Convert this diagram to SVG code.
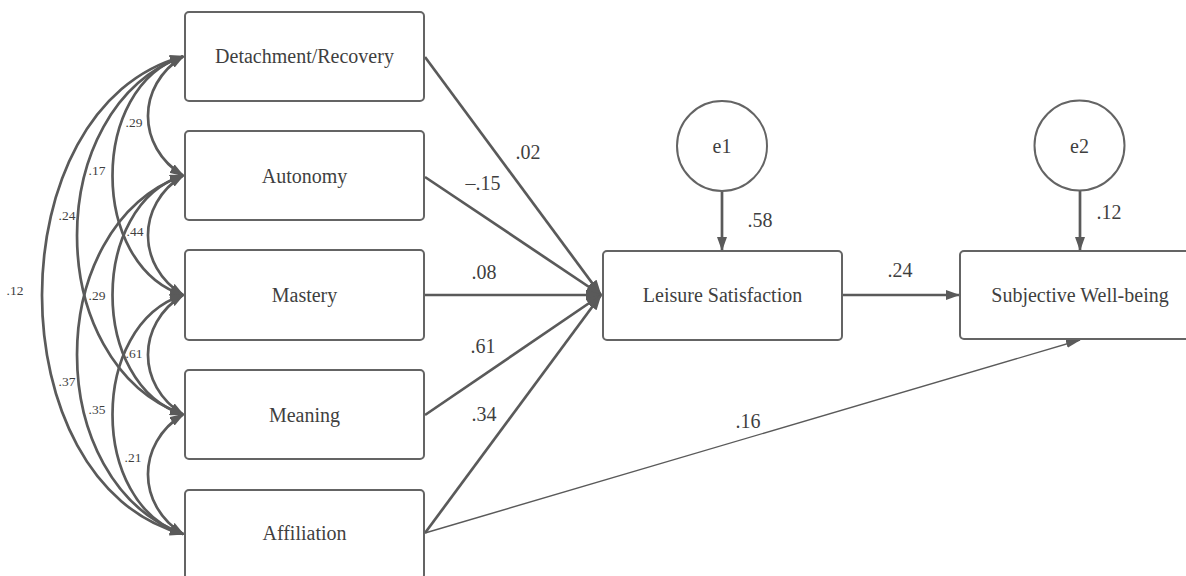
<svg xmlns="http://www.w3.org/2000/svg" width="1186" height="576" viewBox="0 0 1186 576">
<style>
.box{fill:#fff;stroke:#646464;stroke-width:2}
.lbl,.el,.cl{font-family:"Liberation Serif","Times New Roman",Tinos,"DejaVu Serif","Noto Serif",serif;fill:#3f3f3f;text-anchor:middle}
.lbl,.el{font-size:20px}
.cl{font-size:13.5px}
.cov{fill:none;stroke:#5a5a5a;stroke-width:2.7;marker-start:url(#ca);marker-end:url(#ca)}
.pth{fill:none;stroke:#5a5a5a;stroke-width:2.7}
</style>
<defs>
<marker id="ca" viewBox="0 0 15 10" refX="13" refY="5" markerWidth="15" markerHeight="10" markerUnits="userSpaceOnUse" orient="auto-start-reverse"><path d="M0,0 L15,5 L0,10 z" fill="#5a5a5a"/></marker>
<marker id="big" viewBox="0 0 16 11" refX="15" refY="5.5" markerWidth="16" markerHeight="11" markerUnits="userSpaceOnUse" orient="auto"><path d="M0,0 L16,5.5 L0,11 z" fill="#5a5a5a"/></marker>
<marker id="med" viewBox="0 0 14 10" refX="13" refY="5" markerWidth="14" markerHeight="10" markerUnits="userSpaceOnUse" orient="auto"><path d="M0,0 L14,5 L0,10 z" fill="#5a5a5a"/></marker>
<marker id="thin" viewBox="0 0 15 8" refX="14" refY="4" markerWidth="15" markerHeight="8" markerUnits="userSpaceOnUse" orient="auto"><path d="M0,0 L15,4 L0,8 z" fill="#5a5a5a"/></marker>
</defs>
<g id="connectors">
<path class="cov" d="M183,56.5 C136.3,85.5 136.3,146.5 183,175.5"/>
<path class="cov" d="M183,175.5 C136.3,204.5 136.3,266 183,295"/>
<path class="cov" d="M183,295 C136.3,324 136.3,385.5 183,414.5"/>
<path class="cov" d="M183,414.5 C136.3,443.5 136.3,505 183,534"/>
<path class="cov" d="M183,56.5 C89,86.5 89,265 183,295"/>
<path class="cov" d="M183,175.5 C89,205.5 89,384.5 183,414.5"/>
<path class="cov" d="M183,295 C89,325 89,504 183,534"/>
<path class="cov" d="M183,56.5 C41.7,107.5 41.7,363.5 183,414.5"/>
<path class="cov" d="M183,175.5 C41.7,226.5 41.7,483 183,534"/>
<path class="cov" d="M183,56.5 C-5,106.5 -5,484 183,534"/>
<path class="pth" d="M425,57 L601,295" marker-end="url(#big)"/>
<path class="pth" d="M425,177 L601,295" marker-end="url(#big)"/>
<path class="pth" d="M425,295 L601,295" marker-end="url(#big)"/>
<path class="pth" d="M425,415 L601,295" marker-end="url(#big)"/>
<path class="pth" d="M425,533 L601,295" marker-end="url(#big)"/>
<path class="pth" d="M842,295 L959,295" marker-end="url(#med)"/>
<path class="pth" d="M722,191 L722,250" marker-end="url(#med)"/>
<path class="pth" d="M1080,190 L1080,250" marker-end="url(#med)"/>
<path fill="none" stroke="#5a5a5a" stroke-width="1.4" d="M425,533 L1080,340" marker-end="url(#thin)"/>
</g>
<g id="edge-labels">
<text class="el" x="528" y="159">.02</text>
<text class="el" x="483" y="190">–.15</text>
<text class="el" x="484" y="279">.08</text>
<text class="el" x="483" y="353">.61</text>
<text class="el" x="484" y="421">.34</text>
<text class="el" x="760" y="227">.58</text>
<text class="el" x="1109" y="219">.12</text>
<text class="el" x="900" y="277">.24</text>
<text class="el" x="748" y="428">.16</text>
<text class="cl" x="134" y="126.5">.29</text>
<text class="cl" x="97" y="174.5">.17</text>
<text class="cl" x="67" y="219.5">.24</text>
<text class="cl" x="135" y="235.5">.44</text>
<text class="cl" x="15" y="294.5">.12</text>
<text class="cl" x="97" y="299.5">.29</text>
<text class="cl" x="134" y="357.5">.61</text>
<text class="cl" x="67" y="385.5">.37</text>
<text class="cl" x="97" y="413.5">.35</text>
<text class="cl" x="133" y="461.5">.21</text>
</g>
<g id="detachment"><rect class="box" x="185" y="12" width="239" height="89" rx="4"/><text class="lbl" x="304.5" y="63">Detachment/Recovery</text></g>
<g id="autonomy"><rect class="box" x="185" y="131" width="239" height="89" rx="4"/><text class="lbl" x="304.5" y="183">Autonomy</text></g>
<g id="mastery"><rect class="box" x="185" y="250" width="239" height="90" rx="4"/><text class="lbl" x="304.5" y="302">Mastery</text></g>
<g id="meaning"><rect class="box" x="185" y="370" width="239" height="89" rx="4"/><text class="lbl" x="304.5" y="422">Meaning</text></g>
<g id="affiliation"><rect class="box" x="185" y="490" width="239" height="89" rx="4"/><text class="lbl" x="304.5" y="540">Affiliation</text></g>
<g id="leisure"><rect class="box" x="603" y="251" width="239" height="89" rx="4"/><text class="lbl" x="722.5" y="302">Leisure Satisfaction</text></g>
<g id="swb"><rect class="box" x="960" y="251" width="240" height="88" rx="4"/><text class="lbl" x="1080" y="302">Subjective Well-being</text></g>
<g id="e1"><circle class="box" cx="722" cy="146" r="45"/><text class="lbl" x="722" y="153">e1</text></g>
<g id="e2"><circle class="box" cx="1079.5" cy="145.5" r="45"/><text class="lbl" x="1079.5" y="153">e2</text></g>
</svg>
